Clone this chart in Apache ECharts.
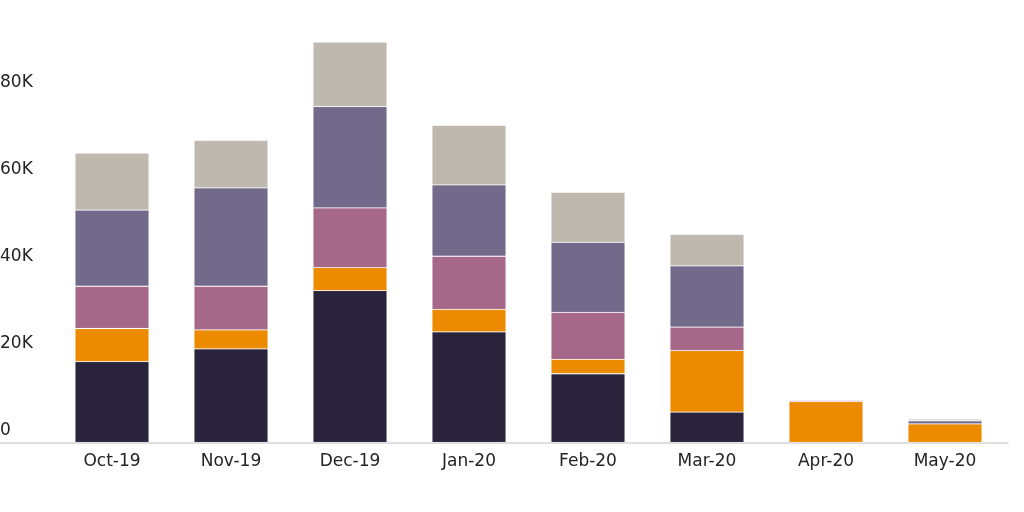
<!DOCTYPE html>
<html>
<head>
<meta charset="utf-8">
<script src="https://cdn.jsdelivr.net/npm/echarts@6/dist/echarts.min.js"></script>
<style>html,body{margin:0;padding:0;background:#fff;}#c{width:1024px;height:512px;}</style>
</head>
<body>
<div id="c"></div>
<script>
const categories = ['Oct-19','Nov-19','Dec-19','Jan-20','Feb-20','Mar-20','Apr-20','May-20'];
const series1 = [18600, 21500, 34900, 25400, 15800, 7000, 0, 0];
const series2 = [7600, 4400, 5300, 5200, 3300, 14100, 9400, 4300];
const series3 = [9700, 10000, 13700, 12200, 10800, 5400, 300, 0];
const series4 = [17500, 22600, 23300, 16400, 16100, 14100, 0, 700];
const series5 = [13100, 10900, 14800, 13700, 11500, 7200, 0, 400];
const seriesNames = ['Series 1','Series 2','Series 3','Series 4','Series 5'];
const colors = ['#29243c','#ed8b00','#a66889','#716a8a','#bfb8ae'];
const yTicks = {min: 0, max: 100000, interval: 20000};

const chart = echarts.init(document.getElementById('c'), null, {renderer: 'canvas'});
const font = 'DejaVu Sans';
const data = [series1, series2, series3, series4, series5];
chart.setOption({
  animation: false,
  backgroundColor: '#fff',
  grid: [
    {left: 52.5, right: 19.5, top: 7.3, bottom: 69.5, containLabel: false, outerBoundsMode: 'none'},
    {left: 0, right: 16, top: 7.3, bottom: 69, containLabel: false, outerBoundsMode: 'none'},
  ],
  xAxis: [
    {
      type: 'category', data: categories, gridIndex: 0,
      axisLine: {show: false}, axisTick: {show: false},
      axisLabel: {color: '#242424', fontFamily: font, fontSize: 17, margin: 11}
    },
    {
      type: 'category', data: [''], gridIndex: 1,
      axisLine: {show: true, lineStyle: {color: '#d4d4d4', width: 1.5}},
      axisTick: {show: false}, axisLabel: {show: false}
    }
  ],
  yAxis: [
    {
      type: 'value', gridIndex: 0, min: yTicks.min, max: yTicks.max, interval: yTicks.interval,
      splitLine: {show: false}, axisLine: {show: false}, axisTick: {show: false},
      axisLabel: {
        color: '#242424', fontFamily: font, fontSize: 17, margin: 52.5, align: 'left',
        verticalAlign: 'bottom', lineHeight: 17, padding: [0, 0, 3, 0],
        formatter: v => v === 0 ? '0' : (v / 1000) + 'K'
      }
    },
    {type: 'value', gridIndex: 1, show: false, min: 0, max: 1}
  ],
  series: data.map((d, i) => ({
    name: seriesNames[i], type: 'bar', stack: 'total', data: d,
    xAxisIndex: 0, yAxisIndex: 0, barWidth: 74,
    itemStyle: {color: colors[i], borderColor: 'rgba(255,255,255,0.15)', borderWidth: 0.8}
  }))
});
</script>
</body>
</html>
